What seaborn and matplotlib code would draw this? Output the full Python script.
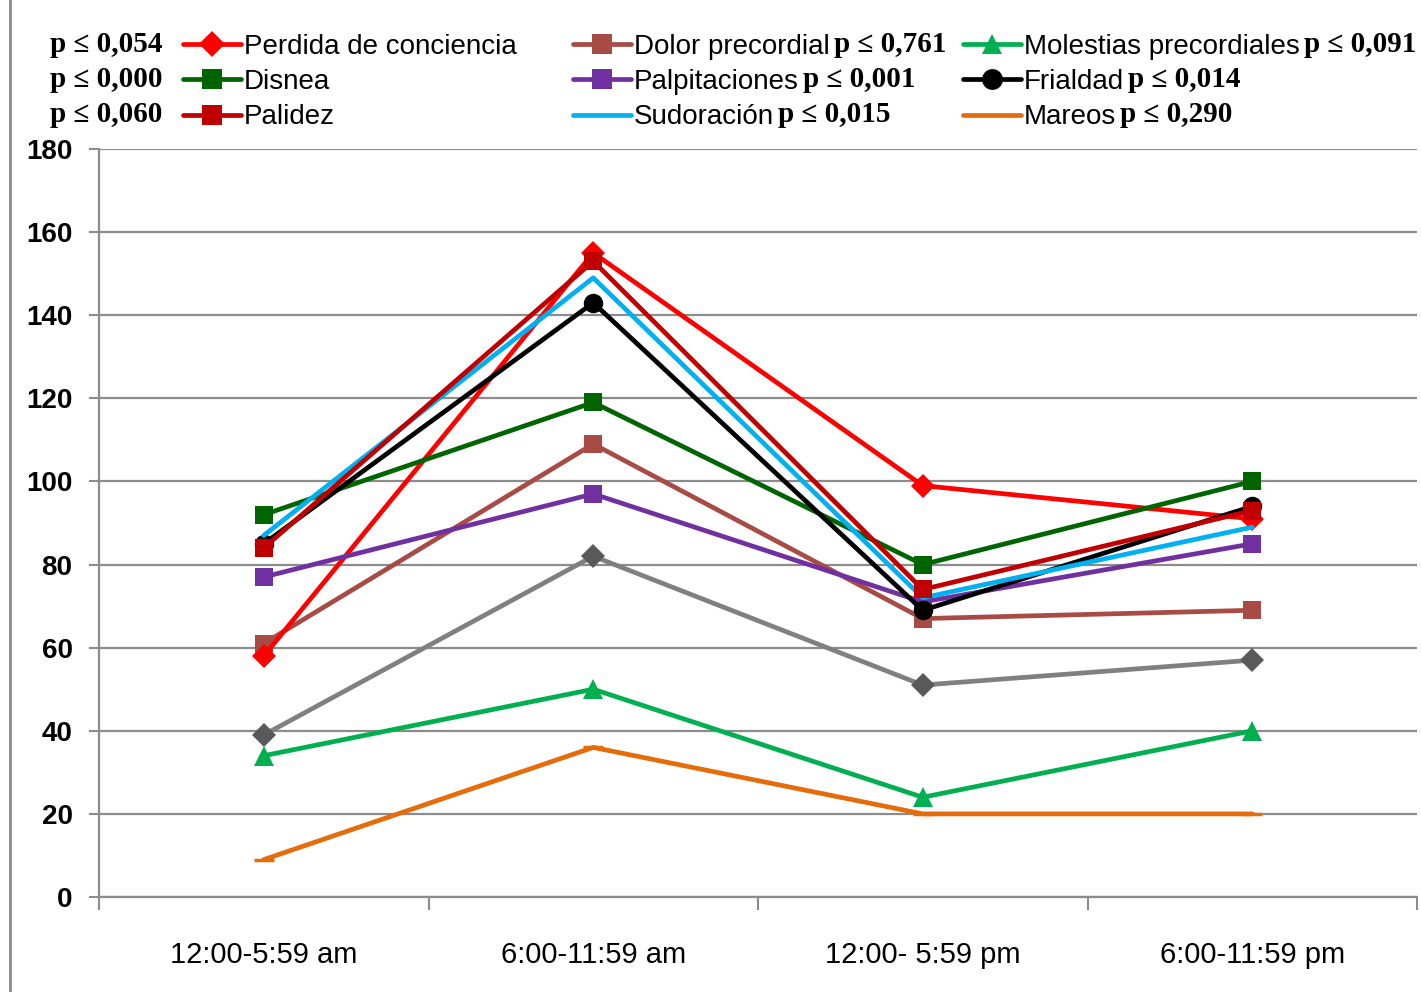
import matplotlib
matplotlib.use("Agg")
import matplotlib.pyplot as plt
from matplotlib.lines import Line2D
import seaborn as sns
import pandas as pd

# Franjas horarias
categorias = ["12:00-5:59 am", "6:00-11:59 am", "12:00- 5:59 pm", "6:00-11:59 pm"]

# Frecuencia de cada síntoma por franja horaria
perdida_conciencia = [58, 155, 99, 91]
disnea = [92, 119, 80, 100]
palidez = [84, 153, 74, 93]
dolor_precordial = [61, 109, 67, 69]
palpitaciones = [77, 97, 71, 85]
sudoracion = [87, 149, 72, 89]
molestias_precordiales = [34, 50, 24, 40]
frialdad = [85, 143, 69, 94]
mareos = [9, 36, 20, 20]
otros = [39, 82, 51, 57]

# Significación estadística de cada síntoma
p_perdida = "p ≤ 0,054"
p_disnea = "p ≤ 0,000"
p_palidez = "p ≤ 0,060"
p_dolor = "p ≤ 0,761"
p_palpitaciones = "p ≤ 0,001"
p_sudoracion = "p ≤ 0,015"
p_molestias = "p ≤ 0,091"
p_frialdad = "p ≤ 0,014"
p_mareos = "p ≤ 0,290"

sns.set_theme(style="white")
plt.rcParams["font.family"] = ["Liberation Sans", "DejaVu Sans"]
plt.rcParams["text.color"] = "black"
plt.rcParams["xtick.labelcolor"] = "black"
plt.rcParams["ytick.labelcolor"] = "black"

W, H = 1421, 992
fig = plt.figure(figsize=(W / 100, H / 100), dpi=100)
ax = fig.add_axes([99 / W, 1 - 897 / H, (1417 - 99) / W, (897 - 149) / H])

x = list(range(len(categorias)))
LW = 3.4

# (nombre, valores, color, marcador, color del marcador, tamaño, orden)
series = [
    ("otros", otros, "#808080", "D", "#595959", 12, 1),
    ("Mareos", mareos, "#E46C0A", "_", "#E46C0A", 14, 2),
    ("Molestias precordiales", molestias_precordiales, "#00B050", "^", "#00B050", 14, 3),
    ("Dolor precordial", dolor_precordial, "#A84B45", "s", "#A84B45", 13, 4),
    ("Perdida de conciencia", perdida_conciencia, "#FF0000", "D", "#FF0000", 12, 5),
    ("Palpitaciones", palpitaciones, "#7030A0", "s", "#7030A0", 13, 6),
    ("Disnea", disnea, "#006400", "s", "#006400", 13, 7),
    ("Frialdad", frialdad, "#000000", "o", "#000000", 14, 8),
    ("Sudoración", sudoracion, "#00B0F0", None, "#00B0F0", 0, 9),
    ("Palidez", palidez, "#C00000", "s", "#C00000", 13, 10),
]

handles = {}
for nombre, vals, color, marker, mcolor, ms, z in series:
    df = pd.DataFrame({"x": x, "y": vals})
    kw = dict(marker=marker, markersize=ms, markerfacecolor=mcolor,
              markeredgecolor=mcolor, markeredgewidth=2.5 if marker == "_" else 0)
    if marker is None:
        kw = {}
    sns.lineplot(data=df, x="x", y="y", ax=ax, color=color, linewidth=LW,
                 sort=False, zorder=z, legend=False, **kw)
    handles[nombre] = ax.lines[-1]

ax.set_xlim(-0.5, 3.5)
ax.set_ylim(0, 180)
ax.set_yticks(range(0, 181, 20))
ax.set_xticks(x)
ax.set_xticklabels(categorias, fontsize=21, color="black")
ax.set_xticks([-0.5, 0.5, 1.5, 2.5, 3.5], minor=True)
ax.set_xlabel("")
ax.set_ylabel("")
ax.grid(axis="y", color="#8c8c8c", linewidth=1.6)
ax.grid(axis="x", visible=False)
ax.set_axisbelow(True)

for lab in ax.get_yticklabels():
    lab.set_fontweight("bold")
    lab.set_fontsize(20)
    lab.set_color("black")

ax.tick_params(axis="y", which="major", direction="out", length=7, width=1.5,
               color="#8c8c8c", labelcolor="black", pad=12, left=True)
ax.tick_params(axis="x", which="major", length=0, pad=32, labelcolor="black")
ax.tick_params(axis="x", which="minor", direction="out", length=9, width=1.5,
               color="#8c8c8c", bottom=True)

for side in ["top", "right"]:
    ax.spines[side].set_visible(False)
for side in ["left", "bottom"]:
    ax.spines[side].set_color("#8c8c8c")
    ax.spines[side].set_linewidth(1.6)

# borde izquierdo del área del gráfico
fig.add_artist(Line2D([10 / W, 10 / W], [0, 1], transform=fig.transFigure,
                      color="#8c8c8c", linewidth=2))

# Leyenda en tres columnas
columnas = [
    (["Perdida de conciencia", "Disnea", "Palidez"], 183),
    (["Dolor precordial", "Palpitaciones", "Sudoración"], 573),
    (["Molestias precordiales", "Frialdad", "Mareos"], 963),
]
legend_fs = 20
leyendas = []
for nombres, x0 in columnas:
    hs = []
    for n in nombres:
        src = handles[n]
        mk = src.get_marker()
        hs.append(Line2D([], [], color=src.get_color(), linewidth=LW,
                         marker=mk if mk not in ("None", None, "_") else None,
                         markersize=src.get_markersize() + 1,
                         markerfacecolor=src.get_markerfacecolor(),
                         markeredgewidth=0))
    leg = fig.legend(hs, nombres, loc="upper left",
                     bbox_to_anchor=(x0 / W, 1 - 34 / H), bbox_transform=fig.transFigure,
                     frameon=False, fontsize=legend_fs, handlelength=2.1,
                     handletextpad=0.1, labelspacing=0.33, borderpad=0,
                     borderaxespad=0, markerscale=1.0, labelcolor="black")
    leyendas.append((leg, nombres))

p_por_nombre = {
    "Perdida de conciencia": p_perdida, "Disnea": p_disnea, "Palidez": p_palidez,
    "Dolor precordial": p_dolor, "Palpitaciones": p_palpitaciones, "Sudoración": p_sudoracion,
    "Molestias precordiales": p_molestias, "Frialdad": p_frialdad, "Mareos": p_mareos,
}

fig.canvas.draw()
renderer = fig.canvas.get_renderer()
pfont = dict(family=["Liberation Serif", "DejaVu Serif"], fontweight="bold",
             fontsize=21, color="black")
for i, (leg, nombres) in enumerate(leyendas):
    for txt, n in zip(leg.get_texts(), nombres):
        bb = txt.get_window_extent(renderer)
        yc = (bb.y0 + bb.y1) / 2 / H + 3 / H
        if i == 0:
            fig.text(162 / W, yc, p_por_nombre[n], ha="right", va="center", **pfont)
        else:
            fig.text((bb.x1 + 4) / W, yc, p_por_nombre[n], ha="left", va="center", **pfont)

fig.savefig("out.png", dpi=100, facecolor="white")
